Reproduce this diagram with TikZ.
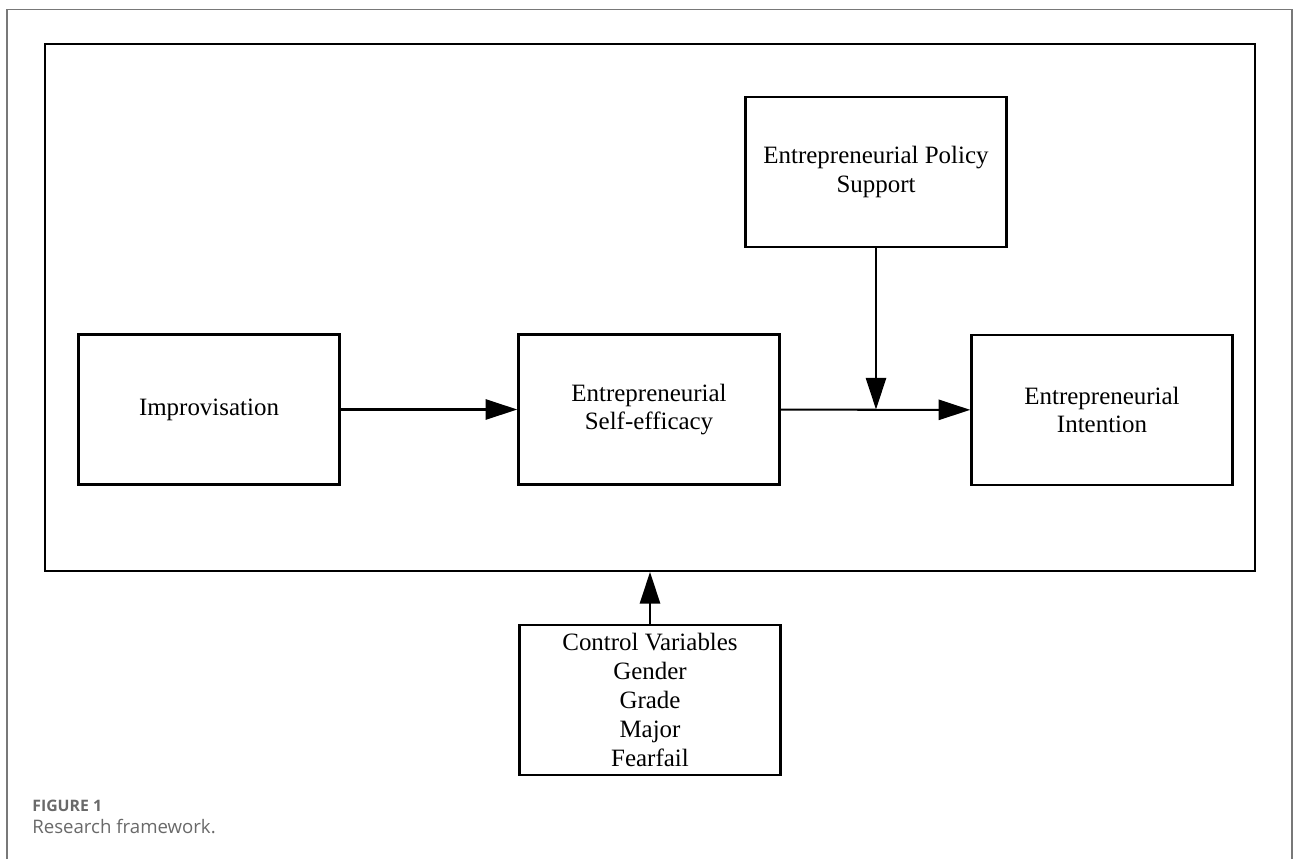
\documentclass[tikz,border=0pt]{standalone}
\usepackage{fontspec}
\setmainfont{Liberation Serif}
\newfontfamily\capfont{Open Sans}
\usetikzlibrary{positioning,arrows.meta}
\definecolor{framegray}{RGB}{120,120,120}
\definecolor{capgray}{RGB}{105,105,105}

\begin{document}
\begin{tikzpicture}[x=0.02cm, y=-0.02cm,
            box/.style ={draw, line width=1.45pt, minimum width=5.22cm, minimum height=3.0cm,
            align=center, inner sep=0pt, font=\fontsize{14.2}{16.4}\selectfont},
            arr/.style ={line width=1.15pt, -{Triangle[length=18pt,width=11.5pt]}}]

        \useasboundingbox (0,0) rectangle (1293,859);

        % figure frame (open at the bottom)
        \draw[framegray, line width=0.6pt] (7,859) -- (7,9.5) -- (1292,9.5) -- (1292,859);

        \node[draw, line width=1.15pt, minimum width=24.2cm, minimum height=10.54cm] (panel) at (650, 307.5) {};

        \node[box] (imp) at (209, 409.5) {Improvisation};
        \node[box] (se) at (649, 409.5) {Entrepreneurial\\Self-efficacy};
        \node[box] (ei) at (1102, 410) {Entrepreneurial\\Intention};
        \node[box] (pol) at (876, 172) {Entrepreneurial Policy\\Support};
        \node[box, font=\fontsize{14.2}{16.5}\selectfont] (ctrl) at (650, 700)
            {Control Variables\\Gender\\Grade\\Major\\Fearfail};

        %%-------------------------- paths -------------------------
        \coordinate (join) at (pol.south |- se.east);
        \coordinate (base) at (ctrl.north |- panel.south);

        \draw[arr] (imp) -- (se);
        \draw[arr] (se) -- (ei);
        \draw[arr] (pol) -- (join);
        \draw[arr] (ctrl) -- (base);

        % caption
        \node[anchor=base west, inner sep=0pt, text=capgray, font=\capfont\bfseries\fontsize{9}{10}\selectfont] (fig) at (32, 811) {FIGURE 1};
        \node[anchor=base west, inner sep=0pt, text=capgray, font=\capfont\fontsize{10.6}{12}\selectfont] (cap) at (32, 833) {Research framework.};

    \end{tikzpicture}
\end{document}
